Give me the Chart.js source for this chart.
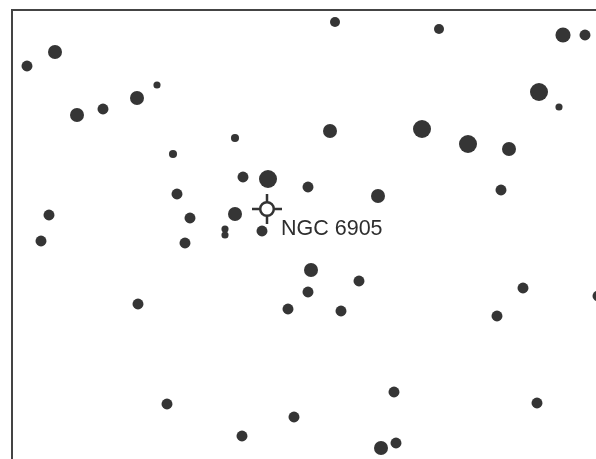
<!DOCTYPE html>
<html>
<head>
<meta charset="utf-8">
<style>
  html, body { margin: 0; padding: 0; background: #ffffff; }
  #wrap { width: 596px; height: 459px; position: relative; }
</style>
<script src="https://cdn.jsdelivr.net/npm/chart.js@4.4.1/dist/chart.umd.min.js"></script>
</head>
<body>
<div id="wrap"><canvas id="c"></canvas></div>
<script>
// Field star positions (chart units, y grows downward) and estimated magnitudes
const starX = [27, 55, 157, 137, 77, 103, 235, 173, 243, 268, 177, 49, 190, 235,
  335, 439, 563, 585, 539, 559, 330, 422, 468, 509, 308, 378, 501,
  41, 185, 225, 225, 262, 138, 288, 167, 242, 294,
  311, 308, 359, 341, 523, 497, 598, 394, 537, 381, 396];
const starY = [66, 52, 85, 98, 115, 109, 138, 154, 177, 179, 194, 215, 218, 214,
  22, 29, 35, 35, 92, 107, 131, 129, 144, 149, 187, 196, 190,
  241, 243, 229, 235, 231, 304, 309, 404, 436, 417,
  270, 292, 281, 311, 288, 316, 296, 392, 403, 448, 443];
const starMag = [9.2, 8.25, 10.4, 8.25, 8.25, 9.2, 10.1, 10.1, 9.2, 7.0, 9.2, 9.2, 9.2, 8.25,
  9.5, 9.5, 7.9, 9.2, 7.0, 10.4, 8.25, 7.0, 7.0, 8.25, 9.2, 8.25, 9.2,
  9.2, 9.2, 10.4, 10.4, 9.2, 9.2, 9.2, 9.2, 9.2, 9.2,
  8.25, 9.2, 9.2, 9.2, 9.2, 9.2, 9.2, 9.2, 9.2, 8.25, 9.2];

// Target object
const targetName = ["NGC 6905"];
const targetX = [267];
const targetY = [209];

// Chart frame (edges of the field)
const frameX = [12, 12, 620];
const frameY = [480, 10, 10];

const starData = starX.map((x, i) => ({ x: x, y: starY[i], r: 9 - 1.6 * (starMag[i] - 7) }));
const targetData = targetX.map((x, i) => ({ x: x, y: targetY[i] }));
const frameData = frameX.map((x, i) => ({ x: x, y: frameY[i] }));

const labelPlugin = {
  id: 'targetLabel',
  afterDatasetsDraw(chart) {
    const ctx = chart.ctx;
    const xs = chart.scales.x, ys = chart.scales.y;
    ctx.save();
    ctx.fillStyle = '#2e2e2e';
    ctx.font = '21.5px "Liberation Sans", Arial, sans-serif';
    ctx.textBaseline = 'alphabetic';
    ctx.textAlign = 'left';
    targetName.forEach((name, i) => {
      const px = xs.getPixelForValue(targetX[i]);
      const py = ys.getPixelForValue(targetY[i]);
      ctx.fillText(name, px + 14, py + 26);
    });
    ctx.restore();
  }
};

new Chart(document.getElementById('c'), {
  type: 'bubble',
  data: {
    datasets: [
      {
        label: 'target ring',
        type: 'scatter',
        data: targetData,
        pointStyle: 'circle',
        pointRadius: 6.8,
        backgroundColor: '#ffffff',
        borderColor: '#333333',
        borderWidth: 2.5,
        order: 0
      },
      {
        label: 'target cross',
        type: 'scatter',
        data: targetData,
        pointStyle: 'cross',
        pointRadius: 15,
        borderColor: '#333333',
        borderWidth: 2.5,
        order: 1
      },
      {
        label: 'stars',
        data: starData,
        backgroundColor: '#353535',
        borderWidth: 0,
        order: 2
      },
      {
        label: 'frame',
        type: 'line',
        data: frameData,
        borderColor: '#444444',
        borderWidth: 2,
        pointRadius: 0,
        fill: false,
        tension: 0,
        order: 3
      }
    ]
  },
  options: {
    responsive: true,
    maintainAspectRatio: false,
    animation: false,
    events: [],
    layout: { padding: 0, autoPadding: false },
    plugins: { legend: { display: false }, tooltip: { enabled: false }, title: { display: false } },
    scales: {
      x: { type: 'linear', min: 0, max: 596, display: false },
      y: { type: 'linear', min: 0, max: 459, reverse: true, display: false }
    }
  },
  plugins: [labelPlugin]
});
</script>
</body>
</html>
